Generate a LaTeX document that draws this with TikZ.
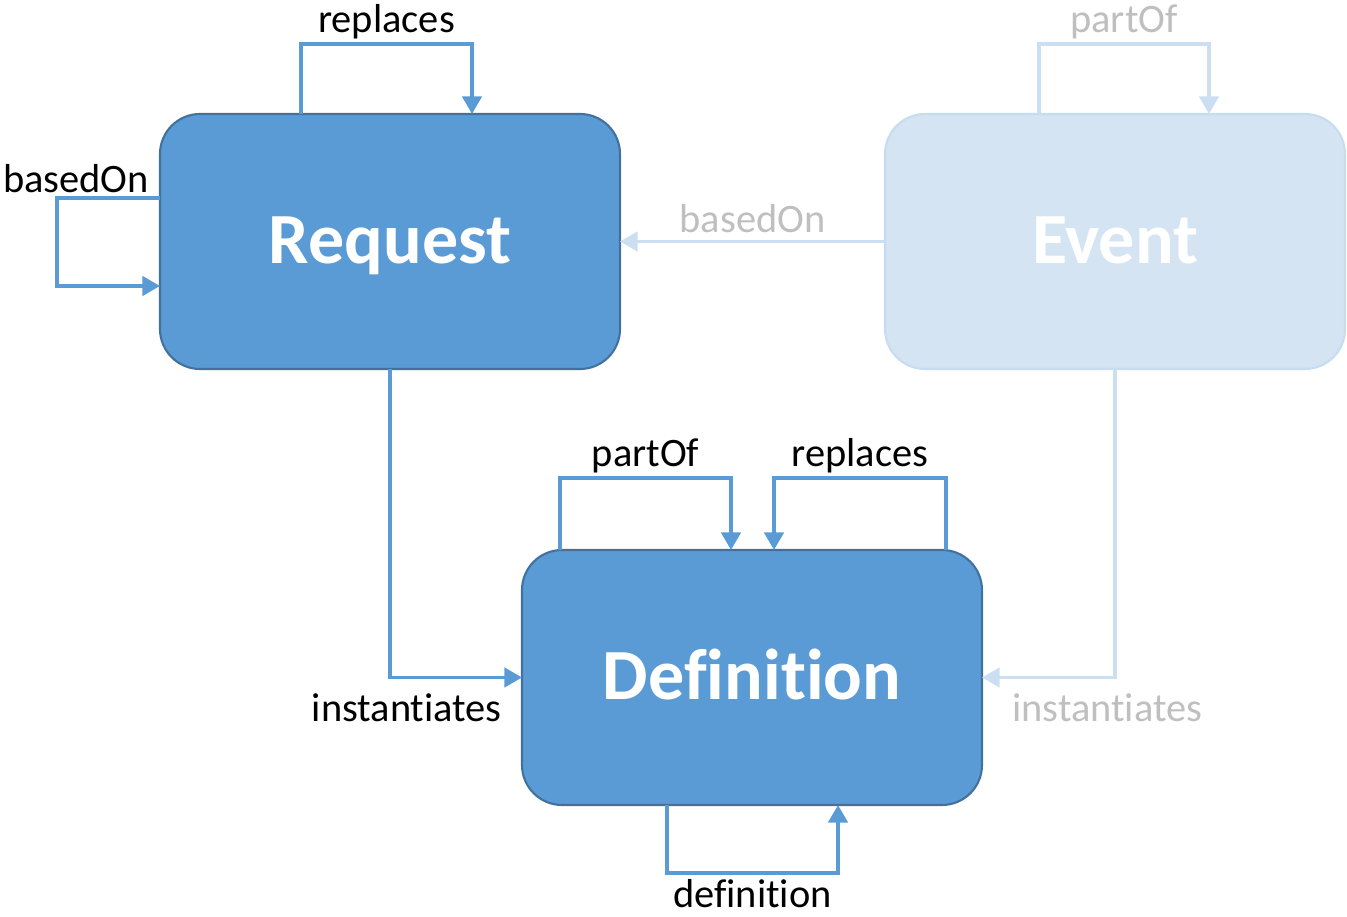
\documentclass[tikz,border=0pt]{standalone}
\usepackage{fontspec}
\setmainfont{Carlito}[Ligatures=NoCommon]
\usetikzlibrary{
  arrows.meta,
  positioning
}
\definecolor{boxblue}{HTML}{5B9BD5}
\definecolor{boxedge}{HTML}{41719C}
\definecolor{fadefill}{HTML}{D5E4F3}
\definecolor{fadeedge}{HTML}{C8DCEF}
\definecolor{fadeline}{HTML}{CCDFF2}
\definecolor{fadetext}{HTML}{BFBFBF}
\tikzset{
  >={Triangle[width=11pt,length=10pt]},
  class/.style = {rounded corners=0.8cm, minimum width=9.2cm, minimum height=5.1cm,
    inner sep=0pt, outer sep=0pt, line width=1.2pt, text=white,
    text height=1.25cm, text depth=0.36cm,
    font=\fontsize{41}{48}\selectfont\bfseries},
  active/.style = {class, fill=boxblue, draw=boxedge},
  faded/.style = {class, fill=fadefill, draw=fadeedge},
  link/.style = {->, line width=2pt, draw=boxblue,
    every node/.style={font=\fontsize{23}{27}\selectfont, text=black, inner sep=2pt}},
  fadelink/.style = {link, draw=fadeline,
    every node/.style={font=\fontsize{23}{27}\selectfont, text=fadetext, inner sep=2pt}},
}

\begin{document}
\begin{tikzpicture}
  \useasboundingbox (0,0) rectangle (26.94,18.34);
  \node[active] (request) at (7.8,13.51) {Request};
  \node[faded] (event) at (22.3,13.51) {Event};
  \node[active] (definition) at (15.04,4.79) {Definition};

  % Request
  \draw[link] ([xshift=-1.78cm]request.north) -- ++(0,1.4)
      -| node[pos=0.25, above] {replaces} ([xshift=1.64cm]request.north);
  \draw[link] ([yshift=0.87cm]request.west) node[above, xshift=-1.68cm] {basedOn}
      -- ++(-2.06,0) |- ([yshift=-0.89cm]request.west);
  \draw[link] (request.south) |- node[pos=1, below left, xshift=-0.3cm, yshift=-0.22cm] {instantiates} (definition.west);

  % Event
  \draw[fadelink] ([xshift=-1.52cm]event.north) -- ++(0,1.4)
      -| node[pos=0.25, above] {partOf} ([xshift=1.88cm]event.north);
  \draw[fadelink] (event.west) -- node[above, yshift=2pt] {basedOn} (request.east);
  \draw[fadelink] (event.south) |- node[pos=1, below right, xshift=0.5cm, yshift=-0.22cm] {instantiates} (definition.east);

  % Definition
  \draw[link] ([xshift=-3.84cm]definition.north) -- ++(0,1.44)
      -| node[pos=0.25, above] {partOf} ([xshift=-0.42cm]definition.north);
  \draw[link] ([xshift=3.88cm]definition.north) -- ++(0,1.44)
      -| node[pos=0.25, above] {replaces} ([xshift=0.44cm]definition.north);
  \draw[link] ([xshift=-1.7cm]definition.south) -- ++(0,-1.36)
      -| node[pos=0.25, below, yshift=-0.03cm] {definition} ([xshift=1.72cm]definition.south);
\end{tikzpicture}
\end{document}
